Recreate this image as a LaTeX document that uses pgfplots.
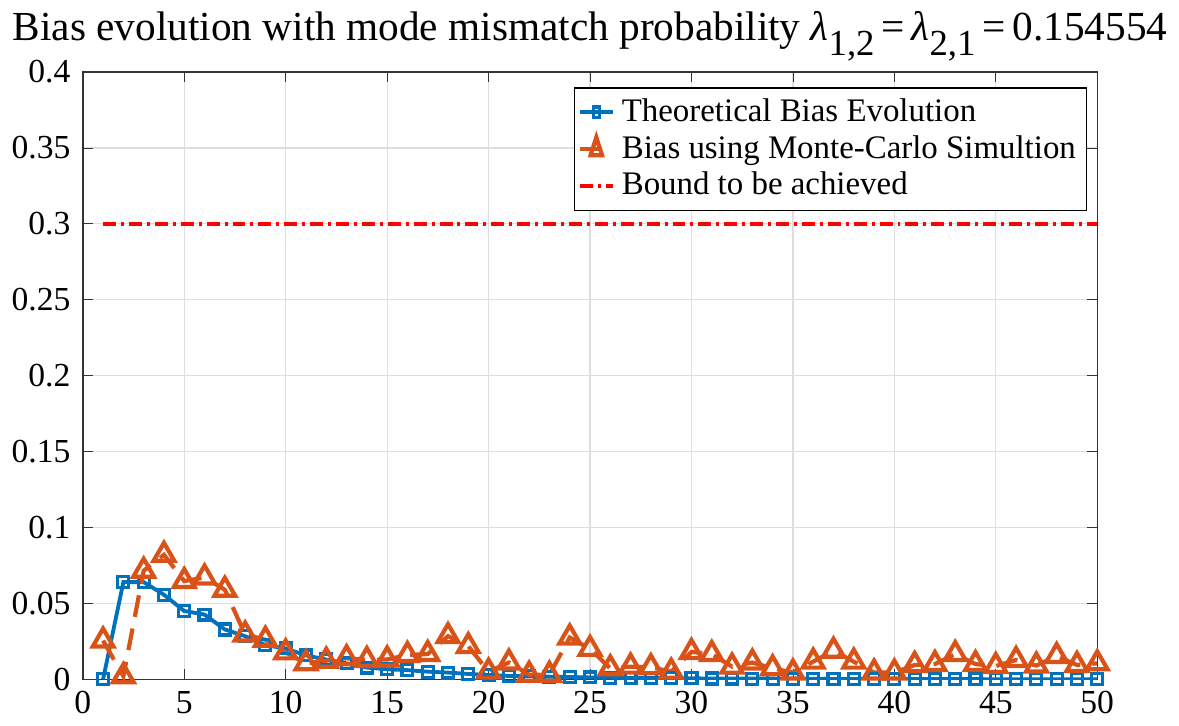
\documentclass[border=0pt]{standalone}
\usepackage{pgfplots}
\pgfplotsset{compat=1.18}
\usepackage{fontspec}
\setmainfont{Liberation Serif}
\definecolor{mblue}{rgb}{0,0.447,0.741}
\definecolor{morange}{rgb}{0.85,0.325,0.098}
\newcommand{\sub}[1]{\raisebox{-0.8ex}{\fontsize{10.5}{11}\selectfont #1}}
\begin{document}
\begin{tikzpicture}
\begin{axis}[
  width=101.9mm, height=61.0mm, scale only axis,
  xmin=0, xmax=50, ymin=0, ymax=0.4,
  xtick={0,5,...,50},
  ytick={0,0.05,0.1,0.15,0.2,0.25,0.3,0.35,0.4},
  /pgf/number format/assume math mode=true,
  yticklabel style={/pgf/number format/fixed,/pgf/number format/precision=2},
  tick label style={font=\fontsize{9.6}{11}\selectfont},
  grid=major,
  major grid style={draw=black!13, line width=0.35pt},
  axis line style={draw=black!80, line width=0.4pt},
  tick style={draw=black!80},
  major tick length=1mm,
  title={Bias evolution with mode mismatch probability {\itshape λ}\sub{1,2}\,=\,{\itshape λ}\sub{2,1}\,=\,0.154554},
  title style={font=\fontsize{11.8}{13}\selectfont, yshift=-2.3mm},
  legend style={at={(0.99,0.975)}, anchor=north east, draw=black, line width=0.4pt,
    font=\fontsize{9.4}{11}\selectfont, inner sep=1pt, row sep=-1.5pt, cells={anchor=west}},
  legend image post style={xscale=0.55},
]
\addplot[color=mblue, line width=1.1pt, mark=square, mark size=0.55mm, mark options={solid, line width=0.9pt}] coordinates {
(1,0) (2,0.064) (3,0.064) (4,0.0557) (5,0.045) (6,0.0426) (7,0.0328) (8,0.0284) (9,0.0225) (10,0.0203)
(11,0.0157) (12,0.013) (13,0.0105) (14,0.0077) (15,0.0066) (16,0.006) (17,0.005) (18,0.0044) (19,0.0035) (20,0.0028)
(21,0.0022) (22,0.002) (23,0.0017) (24,0.0015) (25,0.0012) (26,0.001) (27,0.0009) (28,0.0008) (29,0.0007) (30,0.0006)
(31,0.0005) (32,0.0005) (33,0.0004) (34,0.0004) (35,0.0003) (36,0.0003) (37,0.0002) (38,0.0002) (39,0.0002) (40,0.0001)
(41,0.0001) (42,0.0001) (43,0.0001) (44,0.0001) (45,0) (46,0) (47,0) (48,0) (49,0) (50,0)
};
\addlegendentry{Theoretical Bias Evolution}
\addplot[color=morange, line width=1.2pt, dash pattern=on 2.2mm off 1.2mm, mark=triangle, mark size=1.2mm, mark options={solid, line width=1.2pt}] coordinates {
(1,0.0255) (2,0.002) (3,0.0715) (4,0.082) (5,0.0647) (6,0.067) (7,0.059) (8,0.0295) (9,0.026) (10,0.0177)
(11,0.0105) (12,0.0122) (13,0.0138) (14,0.0127) (15,0.013) (16,0.016) (17,0.0166) (18,0.0284) (19,0.0218) (20,0.005)
(21,0.011) (22,0.003) (23,0.003) (24,0.0275) (25,0.02) (26,0.0072) (27,0.0083) (28,0.0079) (29,0.005) (30,0.018)
(31,0.0166) (32,0.0083) (33,0.011) (34,0.0072) (35,0.0044) (36,0.0116) (37,0.0188) (38,0.0116) (39,0.0044) (40,0.0044)
(41,0.0094) (42,0.01) (43,0.0166) (44,0.01) (45,0.0087) (46,0.0127) (47,0.009) (48,0.0153) (49,0.0094) (50,0.0105)
};
\addlegendentry{Bias using Monte-Carlo Simultion}
\addplot[color=red, line width=1.1pt, dash pattern=on 1.3mm off 0.5mm on 0.3mm off 0.5mm] coordinates {
(1,0.3) (50,0.3)
};
\addlegendentry{Bound to be achieved}
\end{axis}
\end{tikzpicture}
\end{document}
